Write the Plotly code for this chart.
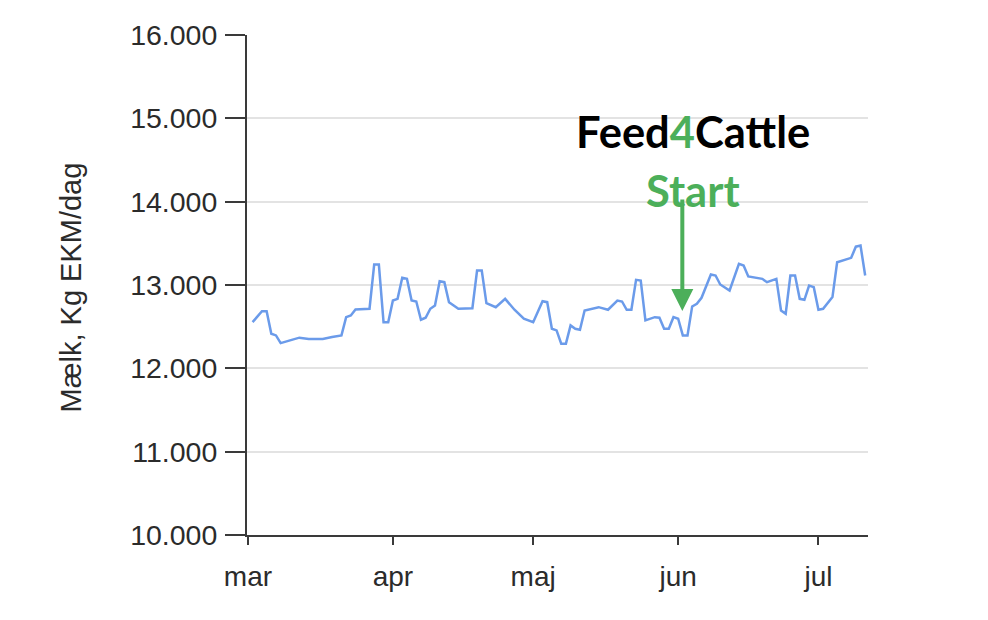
import plotly.graph_objects as go

# ---- data ----
dates = [
    "2019-03-02", "2019-03-04", "2019-03-05", "2019-03-06", "2019-03-07", "2019-03-08",
    "2019-03-10", "2019-03-12", "2019-03-14", "2019-03-17", "2019-03-19", "2019-03-21",
    "2019-03-22", "2019-03-23", "2019-03-24", "2019-03-27", "2019-03-28", "2019-03-29",
    "2019-03-30", "2019-03-31",
    "2019-04-01", "2019-04-02", "2019-04-03", "2019-04-04", "2019-04-05", "2019-04-06",
    "2019-04-07", "2019-04-08", "2019-04-09", "2019-04-10", "2019-04-11", "2019-04-12",
    "2019-04-13", "2019-04-15", "2019-04-18", "2019-04-19", "2019-04-20", "2019-04-21",
    "2019-04-23", "2019-04-25", "2019-04-27", "2019-04-29",
    "2019-05-01", "2019-05-03", "2019-05-04", "2019-05-05", "2019-05-06", "2019-05-07",
    "2019-05-08", "2019-05-09", "2019-05-10", "2019-05-11", "2019-05-12", "2019-05-15",
    "2019-05-17", "2019-05-19", "2019-05-20", "2019-05-21", "2019-05-22", "2019-05-23",
    "2019-05-24", "2019-05-25", "2019-05-27", "2019-05-28", "2019-05-29", "2019-05-30",
    "2019-05-31",
    "2019-06-01", "2019-06-02", "2019-06-03", "2019-06-04", "2019-06-05", "2019-06-06",
    "2019-06-08", "2019-06-09", "2019-06-10", "2019-06-12", "2019-06-13", "2019-06-14",
    "2019-06-15", "2019-06-16", "2019-06-19", "2019-06-20", "2019-06-22", "2019-06-23",
    "2019-06-24", "2019-06-25", "2019-06-26", "2019-06-27", "2019-06-28", "2019-06-29",
    "2019-06-30",
    "2019-07-01", "2019-07-02", "2019-07-04", "2019-07-05", "2019-07-08", "2019-07-09",
    "2019-07-10", "2019-07-11",
]

milk = [
    12554, 12686, 12686, 12415, 12395, 12303, 12335, 12368, 12351, 12351, 12375, 12395,
    12614, 12635, 12707, 12715, 13245, 13245, 12554, 12554,
    12814, 12834, 13086, 13074, 12814, 12802, 12583, 12607, 12715, 12754, 13046, 13034,
    12794, 12715, 12722, 13174, 13174, 12782, 12734, 12834, 12703, 12595,
    12554, 12806, 12794, 12475, 12455, 12296, 12296, 12515, 12475, 12463, 12695, 12734,
    12703, 12814, 12802, 12703, 12703, 13062, 13054, 12575, 12614, 12607, 12475, 12475,
    12614,
    12595, 12395, 12395, 12743, 12775, 12846, 13126, 13114, 13006, 12934, 13094, 13254,
    13234, 13102, 13074, 13034, 13074, 12695, 12655, 13114, 13114, 12834, 12822, 12994,
    12974,
    12703, 12715, 12855, 13273, 13326, 13460, 13473, 13114,
]

month_ticks = ["2019-03-01", "2019-04-01", "2019-05-01", "2019-06-01", "2019-07-01"]
month_labels = ["mar", "apr", "maj", "jun", "jul"]

y_ticks = [10000, 11000, 12000, 13000, 14000, 15000, 16000]
y_title = "Mælk, Kg EKM/dag"

GREEN = "#4CAF5A"
AXIS = "#3a3a3a"
FONT = "Liberation Sans, Arial, sans-serif"

fig = go.Figure()
fig.add_trace(go.Scatter(
    x=dates, y=milk, mode="lines",
    line=dict(color="#6b9bea", width=2.5),
    showlegend=False, hoverinfo="x+y",
))

fig.update_layout(
    width=988, height=620,
    margin=dict(l=239, r=128, t=27, b=93),
    paper_bgcolor="white", plot_bgcolor="white",
    separators=",.",
    font=dict(family=FONT, size=28, color="#2b2b2b"),
    showlegend=False,
)

fig.update_xaxes(
    type="date",
    range=["2019-02-28 19:12", "2019-07-11 14:24"],
    tickvals=month_ticks, ticktext=month_labels,
    ticks="outside", ticklen=8, tickwidth=2, tickcolor=AXIS,
    ticklabelstandoff=7,
    showline=True, linecolor=AXIS, linewidth=2,
    showgrid=False, zeroline=False,
    tickfont=dict(family=FONT, size=28, color="#2b2b2b"),
)

fig.update_yaxes(
    range=[10000, 16000],
    tickvals=y_ticks, tickformat=",d",
    ticks="outside", ticklen=20, tickwidth=2, tickcolor=AXIS,
    ticklabelstandoff=2,
    showline=True, linecolor=AXIS, linewidth=2,
    showgrid=True, gridcolor="#e3e3e3", gridwidth=2,
    zeroline=False,
    tickfont=dict(family=FONT, size=28.5, color="#2b2b2b"),
)

# y-axis title as rotated text
fig.add_annotation(
    xref="paper", yref="paper", x=-0.2835, y=0.495,
    text=y_title, textangle=-90, showarrow=False,
    xanchor="center", yanchor="middle",
    font=dict(family=FONT, size=29, color="#2b2b2b"),
)

# Feed4Cattle label
fig.add_annotation(
    xref="paper", yref="paper", x=0.718, y=0.808,
    text="<b>Feed<span style='color:%s'>4</span>Cattle</b>" % GREEN,
    showarrow=False, xanchor="center", yanchor="middle",
    font=dict(family="Lato, sans-serif", size=43.5, color="black"),
)
fig.add_annotation(
    xref="paper", yref="paper", x=0.719, y=0.69,
    text="<b>Start</b>",
    showarrow=False, xanchor="center", yanchor="middle",
    font=dict(family="Lato, sans-serif", size=43.5, color=GREEN),
)

# arrow
fig.add_annotation(
    xref="paper", yref="paper", x=0.701, y=0.448,
    ax=0, ay=-113, text="", showarrow=True,
    arrowhead=2, arrowsize=1.1, arrowwidth=4, arrowcolor=GREEN,
)

fig.write_html("out.html")
